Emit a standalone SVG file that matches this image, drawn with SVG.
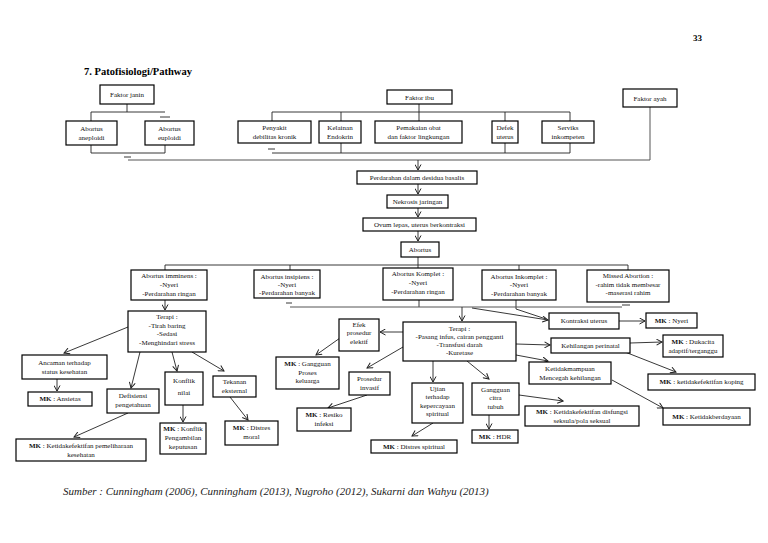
<svg xmlns="http://www.w3.org/2000/svg" width="768" height="543" viewBox="0 0 768 543">
<style>
.b{fill:#fff;stroke:#000;stroke-width:1.2}
.t{font-family:'Liberation Serif','Times New Roman','DejaVu Serif',serif;font-size:7px;fill:#111;text-anchor:middle}
.s{font-family:'Liberation Serif','Times New Roman','DejaVu Serif',serif}
.l{fill:none;stroke:#222;stroke-width:0.9}
.g{fill:none;stroke:#555;stroke-width:1}
.a{fill:none;stroke:#222;stroke-width:0.9;marker-end:url(#ah)}
.mk{font-weight:bold}
</style>
<defs>
<marker id="ah" markerWidth="7" markerHeight="7" refX="6" refY="3.5" orient="auto" markerUnits="userSpaceOnUse">
<path d="M0.5,0.5 L6,3.5 L0.5,6.5" fill="none" stroke="#222" stroke-width="1"/>
</marker>
</defs>
<rect width="768" height="543" fill="#fff"/>
<text class="s" x="693" y="41" font-size="9" font-weight="bold">33</text>
<text class="s" x="84" y="75" font-size="10.5" font-weight="bold">7. Patofisiologi/Pathway</text>

<g id="connectors">
<path class="l" d="M127,104V112M91,112H165M91,112V121M160,117H170"/>
<path class="l" d="M91,145V153H165V145M124,157H131"/>
<path class="g" d="M128,160H650M650,107V160"/>
<path class="l" d="M419,104V112M272,112H570M272,112V121M341,112V121M419,112V121M505,112V121M570,112V121"/>
<path class="l" d="M272,153H570M341,143V153M505,143V153M570,143V153M268,149H275"/>
<path class="l" d="M418,257V265M165,265H628M165,265V270M290,265V270M418,265V268M519,265V270M628,265V270"/>
<path class="l" d="M419,300V307M516,300V309M286,303H292M622,305H630"/>
<path class="g" d="M290,307H622"/>
<path class="a" d="M418,160V170"/>
<path class="a" d="M418,184V194"/>
<path class="a" d="M418,208V217"/>
<path class="a" d="M418,231V241"/>
<path class="a" d="M165,300V310"/>
<path class="a" d="M462,307V321"/>
<path class="a" d="M128,327L64,353"/>
<path class="a" d="M57,379V391"/>
<path class="a" d="M140,352L131,388"/>
<path class="a" d="M128,413L74,437"/>
<path class="a" d="M172,352L177,371"/>
<path class="a" d="M183,405V422"/>
<path class="a" d="M192,352L224,371"/>
<path class="a" d="M230,397L248,420"/>
<path class="a" d="M403,332H380"/>
<path class="a" d="M340,338L316,355"/>
<path class="a" d="M403,347L367,368"/>
<path class="a" d="M367,395L328,408"/>
<path class="a" d="M433,361V382"/>
<path class="a" d="M433,423L412,436"/>
<path class="a" d="M467,361L489,379"/>
<path class="a" d="M489,415V429"/>
<path class="a" d="M519,395L563,401"/>
<path class="a" d="M472,308L548,320"/>
<path class="l" d="M516,309L546,319"/>
<path class="a" d="M619,321H645"/>
<path class="a" d="M516,344L550,345"/>
<path class="a" d="M630,343L662,342"/>
<path class="a" d="M516,355L548,361"/>
<path class="a" d="M625,352L676,372"/>
<path class="a" d="M612,380L663,408"/>
</g>

<g id="faktor-janin"><rect class="b" x="100" y="85" width="54" height="19"/><text class="t" x="127" y="97">Faktor janin</text></g>
<g id="aneploidi"><rect class="b" x="66" y="121" width="51" height="24"/><text class="t" x="91.5" y="131">Abortus</text><text class="t" x="91.5" y="140">aneploidi</text></g>
<g id="euploidi"><rect class="b" x="145" y="121" width="49" height="24"/><text class="t" x="169.5" y="131">Abortus</text><text class="t" x="169.5" y="140">euploidi</text></g>
<g id="faktor-ibu"><rect class="b" x="387" y="90" width="65" height="14"/><text class="t" x="419.5" y="99.5">Faktor ibu</text></g>
<g id="faktor-ayah"><rect class="b" x="623" y="89" width="54" height="18"/><text class="t" x="650" y="100.5">Faktor ayah</text></g>
<g id="penyakit"><rect class="b" x="238" y="121" width="73" height="22"/><text class="t" x="274.5" y="130">Penyakit</text><text class="t" x="274.5" y="139">debilitas kronik</text></g>
<g id="kelainan"><rect class="b" x="319" y="121" width="42" height="22"/><text class="t" x="340" y="130">Kelainan</text><text class="t" x="340" y="139">Endokrin</text></g>
<g id="pemakaian"><rect class="b" x="375" y="121" width="87" height="22"/><text class="t" x="418.5" y="130">Pemakaian obat</text><text class="t" x="418.5" y="139">dan faktor lingkungan</text></g>
<g id="defek"><rect class="b" x="492" y="121" width="26" height="22"/><text class="t" x="505" y="130">Defek</text><text class="t" x="505" y="139">uterus</text></g>
<g id="serviks"><rect class="b" x="542" y="121" width="52" height="22"/><text class="t" x="568" y="130">Serviks</text><text class="t" x="568" y="139">inkompeten</text></g>
<g id="perdarahan"><rect class="b" x="357" y="171" width="120" height="13"/><text class="t" x="417" y="180">Perdarahan dalam desidua basalis</text></g>
<g id="nekrosis"><rect class="b" x="387" y="195" width="61" height="13"/><text class="t" x="417.5" y="204">Nekrosis jaringan</text></g>
<g id="ovum"><rect class="b" x="363" y="218" width="113" height="13"/><text class="t" x="419.5" y="227">Ovum lepas, uterus berkontraksi</text></g>
<g id="abortus"><rect class="b" x="401" y="242" width="38" height="15"/><text class="t" x="420" y="252">Abortus</text></g>
<g id="imminens"><rect class="b" x="131" y="270" width="76" height="30"/><text class="t" x="169" y="278">Abortus imminens :</text><text class="t" x="169" y="287">-Nyeri</text><text class="t" x="169" y="296">-Perdarahan ringan</text></g>
<g id="insipiens"><rect class="b" x="254" y="270" width="66" height="28"/><text class="t" x="287" y="279">Abortus insipiens :</text><text class="t" x="287" y="287">-Nyeri</text><text class="t" x="287" y="295">-Perdarahan banyak</text></g>
<g id="komplet"><rect class="b" x="383" y="268" width="70" height="32"/><text class="t" x="418" y="276">Abortus Komplet :</text><text class="t" x="418" y="285">-Nyeri</text><text class="t" x="418" y="294">-Perdarahan ringan</text></g>
<g id="inkomplet"><rect class="b" x="482" y="270" width="74" height="30"/><text class="t" x="519" y="279">Abortus Inkomplet :</text><text class="t" x="519" y="287">-Nyeri</text><text class="t" x="519" y="296">-Perdarahan banyak</text></g>
<g id="missed"><rect class="b" x="587" y="270" width="82" height="32"/><text class="t" x="628" y="278">Missed Abortion :</text><text class="t" x="628" y="287">-rahim tidak membesar</text><text class="t" x="628" y="295">-maserasi rahim</text></g>
<g id="terapi-imminens"><rect class="b" x="128" y="311" width="78" height="41"/><text class="t" x="167" y="319">Terapi :</text><text class="t" x="167" y="328">-Tirah baring</text><text class="t" x="167" y="336">-Sedasi</text><text class="t" x="167" y="345">-Menghindari stress</text></g>
<g id="ancaman"><rect class="b" x="22" y="355" width="85" height="24"/><text class="t" x="64.5" y="365">Ancaman terhadap</text><text class="t" x="64.5" y="374">status kesehatan</text></g>
<g id="mk-ansietas"><rect class="b" x="28" y="392" width="64" height="14"/><text class="t" x="60" y="401"><tspan class="mk">MK</tspan> : Ansietas</text></g>
<g id="defisiensi"><rect class="b" x="107" y="389" width="52" height="24"/><text class="t" x="133" y="398">Defisiensi</text><text class="t" x="133" y="407">pengetahuan</text></g>
<g id="mk-pemeliharaan"><rect class="b" x="16" y="439" width="130" height="22"/><text class="t" x="81" y="448"><tspan class="mk">MK</tspan> : Ketidakefektifan pemeliharaan</text><text class="t" x="81" y="457">kesehatan</text></g>
<g id="konflik"><rect class="b" x="165" y="372" width="38" height="33"/><text class="t" x="184" y="383">Konflik</text><text class="t" x="184" y="395">nilai</text></g>
<g id="mk-konflik"><rect class="b" x="160" y="423" width="46" height="31"/><text class="t" x="183" y="431"><tspan class="mk">MK</tspan> : Konflik</text><text class="t" x="183" y="440">Pengambilan</text><text class="t" x="183" y="449">keputusan</text></g>
<g id="tekanan"><rect class="b" x="213" y="376" width="43" height="21"/><text class="t" x="234.5" y="384">Tekanan</text><text class="t" x="234.5" y="393">eksternal</text></g>
<g id="mk-distres-moral"><rect class="b" x="225" y="421" width="53" height="24"/><text class="t" x="251.5" y="430"><tspan class="mk">MK</tspan> : Distres</text><text class="t" x="251.5" y="439">moral</text></g>
<g id="terapi-komplet"><rect class="b" x="403" y="322" width="113" height="39"/><text class="t" x="459.5" y="331">Terapi :</text><text class="t" x="459.5" y="339">-Pasang infus, cairan pengganti</text><text class="t" x="459.5" y="347">-Transfusi darah</text><text class="t" x="459.5" y="355">-Kuretase</text></g>
<g id="efek"><rect class="b" x="339" y="319" width="40" height="32"/><text class="t" x="359" y="327">Efek</text><text class="t" x="359" y="335">prosedur</text><text class="t" x="359" y="344">elektif</text></g>
<g id="mk-keluarga"><rect class="b" x="276" y="357" width="63" height="32"/><text class="t" x="307.5" y="366"><tspan class="mk">MK</tspan> : Gangguan</text><text class="t" x="307.5" y="375">Proses</text><text class="t" x="307.5" y="383">keluarga</text></g>
<g id="prosedur-invasif"><rect class="b" x="349" y="372" width="41" height="23"/><text class="t" x="369.5" y="381">Prosedur</text><text class="t" x="369.5" y="390">invasif</text></g>
<g id="mk-infeksi"><rect class="b" x="297" y="408" width="54" height="23"/><text class="t" x="324" y="417"><tspan class="mk">MK</tspan> : Resiko</text><text class="t" x="324" y="426">infeksi</text></g>
<g id="ujian"><rect class="b" x="412" y="383" width="51" height="40"/><text class="t" x="437.5" y="391">Ujian</text><text class="t" x="437.5" y="399">terhadap</text><text class="t" x="437.5" y="408">kepercayaan</text><text class="t" x="437.5" y="416">spiritual</text></g>
<g id="mk-spiritual"><rect class="b" x="371" y="440" width="86" height="13"/><text class="t" x="414" y="449"><tspan class="mk">MK</tspan> : Distres spiritual</text></g>
<g id="gangguan-citra"><rect class="b" x="472" y="383" width="47" height="32"/><text class="t" x="495.5" y="392">Gangguan</text><text class="t" x="495.5" y="400">citra</text><text class="t" x="495.5" y="409">tubuh</text></g>
<g id="mk-hdr"><rect class="b" x="472" y="430" width="46" height="13"/><text class="t" x="495" y="439"><tspan class="mk">MK</tspan> : HDR</text></g>
<g id="kontraksi"><rect class="b" x="549" y="313" width="70" height="16"/><text class="t" x="584" y="323">Kontraksi uterus</text></g>
<g id="mk-nyeri"><rect class="b" x="646" y="313" width="51" height="15"/><text class="t" x="671.5" y="323"><tspan class="mk">MK</tspan> : Nyeri</text></g>
<g id="kehilangan"><rect class="b" x="551" y="338" width="79" height="15"/><text class="t" x="590.5" y="348">Kehilangan perinatal</text></g>
<g id="mk-dukacita"><rect class="b" x="663" y="335" width="60" height="22"/><text class="t" x="693" y="344"><tspan class="mk">MK</tspan> : Dukacita</text><text class="t" x="693" y="353">adaptif/terganggu</text></g>
<g id="ketidakmampuan"><rect class="b" x="529" y="362" width="82" height="22"/><text class="t" x="570" y="371">Ketidakmampuan</text><text class="t" x="570" y="380">Mencegah kehilangan</text></g>
<g id="mk-koping"><rect class="b" x="648" y="374" width="107" height="16"/><text class="t" x="701.5" y="384"><tspan class="mk">MK</tspan> : ketidakefektifan koping</text></g>
<g id="mk-seksual"><rect class="b" x="525" y="406" width="114" height="20"/><text class="t" x="582" y="414"><tspan class="mk">MK</tspan> : Ketidakefektifan disfungsi</text><text class="t" x="582" y="423">seksula/pola seksual</text></g>
<g id="mk-berdaya"><rect class="b" x="663" y="408" width="87" height="17"/><text class="t" x="706.5" y="419"><tspan class="mk">MK</tspan> : Ketidakberdayaan</text></g>

<text class="s" x="63" y="495" font-size="11" font-style="italic" fill="#222">Sumber : Cunningham (2006), Cunningham (2013), Nugroho (2012), Sukarni dan Wahyu (2013)</text>
</svg>
